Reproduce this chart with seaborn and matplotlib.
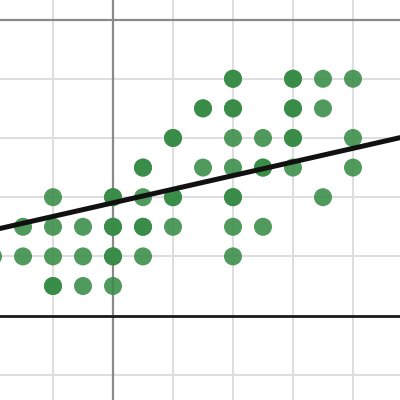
import matplotlib
matplotlib.use("Agg")
import matplotlib.pyplot as plt
import pandas as pd
import seaborn as sns

# points (darker dots in the picture are two points on top of each other)
x_vals = [-4, -3, -3, -2, -2, -2, -2, -2, -1, -1, -1,
          0, 0, 0, 0, 0, 0, 0,
          1, 1, 1, 1, 1, 1,
          2, 2, 2, 2, 2,
          3, 3, 3,
          4, 4, 4, 4, 4, 4, 4, 4, 4, 4,
          5, 5, 5, 5,
          6, 6, 6, 6, 6, 6, 6,
          7, 7, 7,
          8, 8, 8]
y_vals = [-8, -7, -8, -6, -7, -8, -9, -9, -7, -8, -9,
          -6, -6, -7, -7, -8, -8, -9,
          -5, -5, -6, -7, -7, -8,
          -4, -4, -6, -6, -7,
          -3, -3, -5,
          -2, -2, -3, -3, -4, -5, -6, -6, -7, -8,
          -4, -5, -5, -7,
          -2, -2, -3, -3, -4, -4, -5,
          -2, -3, -6,
          -2, -4, -5]

fit_intercept = -6.19
fit_slope = 0.23
h_line = -10

df = pd.DataFrame({"x": x_vals, "y": y_vals})

sns.set_style("white")
fig = plt.figure(figsize=(4, 4), dpi=100)
ax = fig.add_axes([0, 0, 1, 1])

ax.set_xlim(-3.767, 9.567)
ax.set_ylim(-12.85, 0.66)
ax.set_xticks(range(-2, 10, 2))
ax.set_yticks(range(-12, 1, 2))
ax.grid(True, color="#dedede", linewidth=1.4)
ax.set_axisbelow(True)
ax.tick_params(length=0, labelbottom=False, labelleft=False)
for s in ax.spines.values():
    s.set_visible(False)

ax.axhline(0, color="#8a8a8a", linewidth=1.6, zorder=1)
ax.axvline(0, color="#8a8a8a", linewidth=1.6, zorder=1)
ax.axhline(h_line, color="#1a1a1a", linewidth=2.0, zorder=2)

sns.scatterplot(data=df, x="x", y="y", ax=ax, s=168, color="#388c46",
                alpha=0.88, edgecolor="none", zorder=3)

ax.axline((0, fit_intercept), slope=fit_slope, color="#111111",
          linewidth=3.6, zorder=4)

ax.set_xlabel("")
ax.set_ylabel("")
fig.savefig("out.png", dpi=100)
